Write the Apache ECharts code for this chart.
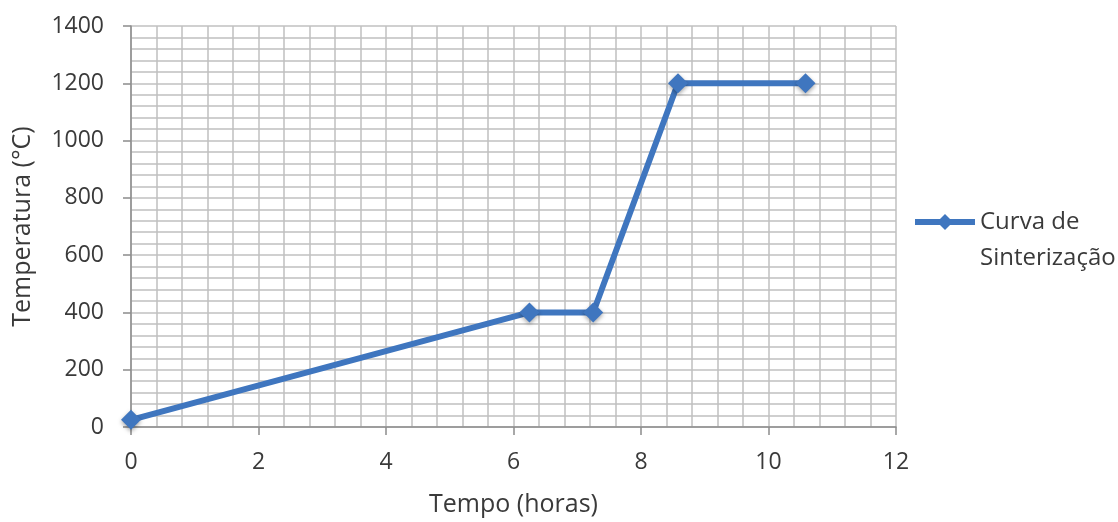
<!DOCTYPE html>
<html>
<head>
<meta charset="utf-8">
<script src="https://cdn.jsdelivr.net/npm/echarts@6/dist/echarts.min.js"></script>
<style>html,body{margin:0;padding:0;background:#fff;}#c{width:1118px;height:522px;}</style>
</head>
<body>
<div id="c"></div>
<script>
const seriesName = 'Curva de\nSinterização';
const tempoHoras = [0, 6.25, 7.25, 8.58, 10.58];
const temperatura = [25, 400, 400, 1200, 1200];
const xAxisTitle = 'Tempo (horas)';
const yAxisTitle = 'Temperatura (°C)';

const FONT = 'Open Sans';
const chart = echarts.init(document.getElementById('c'), null, {renderer: 'canvas'});
const gridColor = '#c0c0c0';
const axisColor = '#8c8c8c';
const lineColor = '#3f76bf';
const textColor = '#3a3a3a';

chart.setOption({
  backgroundColor: '#ffffff',
  animation: false,
  textStyle: {fontFamily: FONT},
  grid: {left: 131, right: 222, top: 26, bottom: 92, containLabel: false},
  legend: {
    left: 912, top: 168, padding: 0,
    itemWidth: 60, itemHeight: 20,
    lineStyle: {width: 6},
    formatter: name => '\n' + name,
    textStyle: {fontFamily: FONT, fontSize: 24, color: textColor, lineHeight: 36},
    data: [seriesName]
  },
  xAxis: {
    type: 'value', min: 0, max: 12, interval: 2,
    name: xAxisTitle, nameLocation: 'middle', nameGap: 65,
    nameTextStyle: {fontFamily: FONT, fontSize: 25, color: textColor},
    axisLine: {show: true, onZero: false, lineStyle: {color: axisColor, width: 1.5}},
    axisTick: {show: true, length: 8, lineStyle: {color: axisColor, width: 1.5}},
    axisLabel: {fontFamily: FONT, fontSize: 23, color: textColor, margin: 24, formatter: v => String(v)},
    splitLine: {show: true, lineStyle: {color: gridColor, width: 1.5}},
    minorSplitLine: {show: true, lineStyle: {color: gridColor, width: 1.5}},
    minorTick: {show: false, splitNumber: 5}
  },
  yAxis: {
    type: 'value', min: 0, max: 1400, interval: 200,
    name: yAxisTitle, nameLocation: 'middle', nameGap: 96, nameRotate: 90,
    nameTextStyle: {fontFamily: FONT, fontSize: 25, color: textColor},
    axisLine: {show: true, lineStyle: {color: axisColor, width: 1.5}},
    axisTick: {show: true, length: 8, lineStyle: {color: axisColor, width: 1.5}},
    axisLabel: {fontFamily: FONT, fontSize: 23, color: textColor, margin: 27, formatter: v => String(v)},
    splitLine: {show: true, lineStyle: {color: gridColor, width: 1.5}},
    minorSplitLine: {show: true, lineStyle: {color: gridColor, width: 1.5}},
    minorTick: {show: false, splitNumber: 5}
  },
  series: [{
    name: seriesName,
    type: 'line',
    data: tempoHoras.map((t, i) => [t, temperatura[i]]),
    symbol: 'diamond', symbolSize: 20,
    lineStyle: {color: lineColor, width: 6},
    itemStyle: {color: lineColor, shadowBlur: 4, shadowColor: 'rgba(0,0,0,0.35)', shadowOffsetY: 2},
    emphasis: {disabled: true}
  }]
});
</script>
</body>
</html>
